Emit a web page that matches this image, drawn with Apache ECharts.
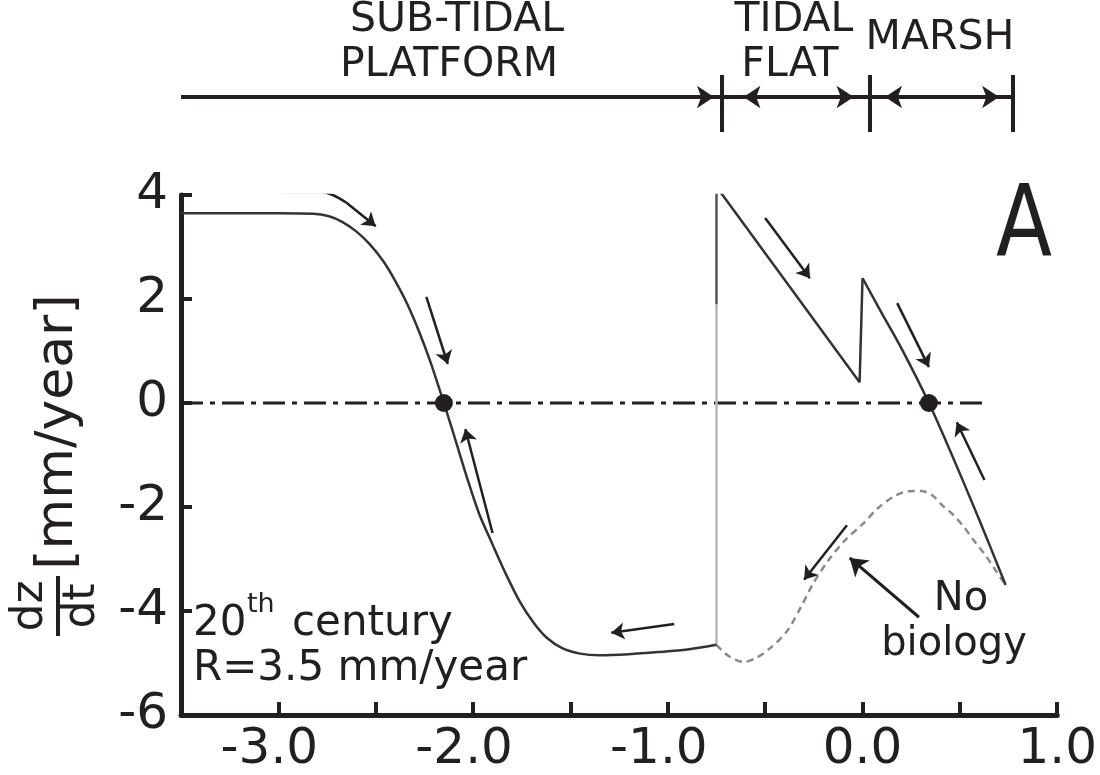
<!DOCTYPE html>
<html>
<head>
<meta charset="utf-8">
<script src="https://cdn.jsdelivr.net/npm/echarts@6/dist/echarts.min.js"></script>
<style>html,body{margin:0;padding:0;background:#fff}#c{width:1100px;height:775px}</style>
</head>
<body>
<div id="c"></div>
<script>
// ---- data ----
const xLabelValues = [-3, -2, -1, 0, 1];
const xTickLabels = ['-3.0', '-2.0', '-1.0', '0.0', '1.0'];
const yLabelValues = [-6, -4, -2, 0, 2, 4];
const yTickLabels = ['-6', '-4', '-2', '0', '2', '4'];

// solid curve, sub-tidal platform (x = elevation, y = dz/dt)
const subtidal = [[-3.50,3.65],[-3.00,3.65],[-2.82,3.64],[-2.74,3.59],[-2.67,3.48],[-2.60,3.30],[-2.53,3.05],[-2.46,2.72],[-2.40,2.35],[-2.34,1.92],[-2.28,1.40],[-2.22,0.80],[-2.15,0.0],[-2.09,-0.72],[-2.03,-1.45],[-1.97,-2.12],[-1.90,-2.72],[-1.83,-3.30],[-1.76,-3.82],[-1.69,-4.22],[-1.62,-4.52],[-1.54,-4.72],[-1.45,-4.82],[-1.35,-4.85],[-1.20,-4.83],[-1.05,-4.79],[-0.90,-4.74],[-0.75,-4.65]];
const jumpLower = [[-0.75,-4.65],[-0.75,1.9]];
const jumpUpper = [[-0.75,1.9],[-0.75,4.16]];
const tidalFlat = [[-0.75,4.16],[-0.015,0.40],[0.0,2.40]];
const marsh = [[0.0,2.40],[0.10,1.72],[0.20,1.05],[0.341,0.0],[0.45,-0.92],[0.60,-2.25],[0.735,-3.50]];
const noBiology = [[-0.75,-4.65],[-0.69,-4.86],[-0.61,-4.98],[-0.545,-4.90],[-0.47,-4.70],[-0.39,-4.40],[-0.32,-3.95],[-0.25,-3.45],[-0.17,-3.00],[-0.09,-2.64],[0.0,-2.33],[0.08,-2.02],[0.16,-1.80],[0.23,-1.70],[0.30,-1.69],[0.36,-1.78],[0.41,-1.97],[0.46,-2.13],[0.52,-2.38],[0.575,-2.66],[0.63,-2.92],[0.68,-3.20],[0.735,-3.50]];
const zeroLine = [[-3.5,0],[0.63,0]];
const equilibria = [[-2.15,0],[0.341,0]];

// flow-direction arrows drawn beside the curves
const flowTail = [[-2.98,4.06],[-2.78,4.06],[-2.72,4.00],[-2.65,3.85]];
const flowArrows = [
  [[-2.65,3.85],[-2.50,3.40]],
  [[-2.24,2.04],[-2.13,0.75]],
  [[-1.90,-2.50],[-2.04,-0.50]],
  [[-0.50,3.56],[-0.27,2.40]],
  [[0.178,1.92],[0.341,0.69]],
  [[0.626,-1.48],[0.484,-0.37]],
  [[-0.967,-4.25],[-1.29,-4.42]],
  [[-0.08,-2.35],[-0.30,-3.40]]
];
const pointerArrow = [[0.29,-4.12],[-0.066,-2.98]];

// zone header (second, hidden cartesian sharing the x scale)
const zoneBounds = [-0.75, 0.0, 0.73];
const zoneLineLevel = 0.614;
const zoneLines = [[[-3.5,zoneLineLevel],[-0.75,zoneLineLevel]],[[-0.75,zoneLineLevel],[0.0,zoneLineLevel]],[[0.0,zoneLineLevel],[0.73,zoneLineLevel]]];
const zoneArrows = [[[-1.2,zoneLineLevel],[-0.79,zoneLineLevel]],[[-0.40,zoneLineLevel],[-0.64,zoneLineLevel]],[[-0.40,zoneLineLevel],[-0.08,zoneLineLevel]],[[0.37,zoneLineLevel],[0.08,zoneLineLevel]],[[0.37,zoneLineLevel],[0.66,zoneLineLevel]]];

// ---- chart ----
const INK = '#231f20';
const FONT = 'DejaVu Sans';
const chart = echarts.init(document.getElementById('c'), null, {renderer: 'canvas'});

function lab(values, labels, v) {
  const i = values.findIndex(t => Math.abs(t - v) < 1e-9);
  return i < 0 ? '' : labels[i];
}

const option = {
  animation: false,
  backgroundColor: '#fff',
  grid: [
    {left: 181, right: 34, top: 195, bottom: 60},
    {left: 181, right: 34, top: 75, height: 57}
  ],
  xAxis: [
    {
      type: 'value', gridIndex: 0, min: -3.5, max: 1.0, interval: 0.5,
      axisLine: {show: true, onZero: false, lineStyle: {color: INK, width: 5}},
      axisTick: {show: true, inside: true, length: 13, lineStyle: {color: INK, width: 4}},
      splitLine: {show: false},
      axisLabel: {
        margin: 10, fontSize: 50, fontFamily: FONT, color: INK,
        formatter: v => {
          const s = lab(xLabelValues, xTickLabels, v);
          if (!s) return '';
          return v < 0 ? '{n|' + s + '}{p|\u00a0}' : '{n|' + s + '}';
        },
        rich: {
          n: {fontSize: 50, fontFamily: FONT, color: INK},
          p: {fontSize: 50, fontFamily: FONT, width: 18}
        }
      }
    },
    {type: 'value', gridIndex: 1, min: -3.5, max: 1.0, show: false}
  ],
  yAxis: [
    {
      type: 'value', gridIndex: 0, min: -6, max: 4, interval: 2,
      axisLine: {show: true, onZero: false, lineStyle: {color: INK, width: 5}},
      axisTick: {show: true, inside: true, length: 11, lineStyle: {color: INK, width: 4}},
      splitLine: {show: false},
      axisLabel: {
        margin: 13, fontSize: 50, fontFamily: FONT, color: INK,
        formatter: v => lab(yLabelValues, yTickLabels, v)
      }
    },
    {type: 'value', gridIndex: 1, min: 0, max: 1, show: false}
  ],
  series: [
    {type: 'line', data: zeroLine, showSymbol: false, symbol: 'none', z: 2,
     lineStyle: {color: INK, width: 3, type: [22, 7, 5, 7]}},
    {type: 'line', data: noBiology, showSymbol: false, symbol: 'none', smooth: 0.3, z: 3,
     lineStyle: {color: '#8a8a8a', width: 2.5, type: [7, 5]}},
    {type: 'line', data: jumpLower, showSymbol: false, symbol: 'none', z: 3,
     lineStyle: {color: '#b8b8b8', width: 2.5}},
    {type: 'line', data: jumpUpper, showSymbol: false, symbol: 'none', z: 3,
     lineStyle: {color: '#555', width: 2.5}},
    {type: 'line', data: subtidal, showSymbol: false, symbol: 'none', smooth: 0.3, z: 4,
     lineStyle: {color: '#333', width: 2.5}},
    {type: 'line', data: tidalFlat, showSymbol: false, symbol: 'none', z: 4,
     lineStyle: {color: '#333', width: 2.5}},
    {type: 'line', data: marsh, showSymbol: false, symbol: 'none', smooth: 0.3, z: 4,
     lineStyle: {color: '#333', width: 2.5}},
    {type: 'line', data: flowTail, showSymbol: false, symbol: 'none', smooth: 0.3, z: 5,
     lineStyle: {color: INK, width: 2.5}},
    {type: 'lines', coordinateSystem: 'cartesian2d', xAxisIndex: 0, yAxisIndex: 0, z: 5,
     symbol: ['none', 'arrow'], symbolSize: 13,
     lineStyle: {color: INK, width: 2.5, opacity: 1, curveness: 0},
     data: flowArrows.map(c => ({coords: c}))},
    {type: 'lines', coordinateSystem: 'cartesian2d', xAxisIndex: 0, yAxisIndex: 0, z: 5,
     symbol: ['none', 'arrow'], symbolSize: 17,
     lineStyle: {color: INK, width: 3, opacity: 1, curveness: 0},
     data: [{coords: pointerArrow}]},
    {type: 'scatter', data: equilibria, symbol: 'circle', symbolSize: 18, z: 6,
     itemStyle: {color: INK, opacity: 1}},
    // zone header
    {type: 'lines', coordinateSystem: 'cartesian2d', xAxisIndex: 1, yAxisIndex: 1, z: 5,
     symbol: 'none', lineStyle: {color: INK, width: 4, opacity: 1, curveness: 0},
     data: zoneLines.concat(zoneBounds.map(b => [[b, 0], [b, 1]])).map(c => ({coords: c}))},
    {type: 'lines', coordinateSystem: 'cartesian2d', xAxisIndex: 1, yAxisIndex: 1, z: 5,
     symbol: ['none', 'arrow'], symbolSize: 17,
     lineStyle: {color: INK, width: 4, opacity: 1, curveness: 0},
     data: zoneArrows.map(c => ({coords: c}))}
  ],
  graphic: [
    {type: 'text', x: 457, y: 20, style: {text: 'SUB-TIDAL', fontSize: 41, fontFamily: FONT, fill: INK, align: 'center', verticalAlign: 'middle'}},
    {type: 'text', x: 449, y: 65, style: {text: 'PLATFORM', fontSize: 41, fontFamily: FONT, fill: INK, align: 'center', verticalAlign: 'middle'}},
    {type: 'text', x: 794, y: 20, style: {text: 'TIDAL', fontSize: 41, fontFamily: FONT, fill: INK, align: 'center', verticalAlign: 'middle'}},
    {type: 'text', x: 790, y: 65, style: {text: 'FLAT', fontSize: 41, fontFamily: FONT, fill: INK, align: 'center', verticalAlign: 'middle'}},
    {type: 'text', x: 940, y: 38, style: {text: 'MARSH', fontSize: 41, fontFamily: FONT, fill: INK, align: 'center', verticalAlign: 'middle'}},
    {type: 'text', x: 1024, y: 230, style: {text: 'A', fontSize: 100, fontFamily: FONT, fill: INK, align: 'center', verticalAlign: 'middle'}, scaleX: 0.82, originX: 0},
    {type: 'text', x: 193, y: 624, style: {text: '20', fontSize: 42, fontFamily: FONT, fill: INK, align: 'left', verticalAlign: 'middle'}},
    {type: 'text', x: 247, y: 605, style: {text: 'th', fontSize: 27, fontFamily: FONT, fill: INK, align: 'left', verticalAlign: 'middle'}},
    {type: 'text', x: 292, y: 624, style: {text: 'century', fontSize: 42, fontFamily: FONT, fill: INK, align: 'left', verticalAlign: 'middle'}},
    {type: 'text', x: 193, y: 669, style: {text: 'R=3.5 mm/year', fontSize: 42, fontFamily: FONT, fill: INK, align: 'left', verticalAlign: 'middle'}},
    {type: 'text', x: 961, y: 600, style: {text: 'No', fontSize: 40, fontFamily: FONT, fill: INK, align: 'center', verticalAlign: 'middle'}},
    {type: 'text', x: 954, y: 645, style: {text: 'biology', fontSize: 40, fontFamily: FONT, fill: INK, align: 'center', verticalAlign: 'middle'}},
    {type: 'text', x: 58, y: 432, rotation: Math.PI / 2,
     style: {text: '[mm/year]', fontSize: 52, fontFamily: FONT, fill: INK, align: 'center', verticalAlign: 'middle'}},
    {type: 'group', x: 58, y: 606, rotation: Math.PI / 2, children: [
      {type: 'text', x: 0, y: -27, style: {text: 'dz', fontSize: 44, fontFamily: FONT, fill: INK, align: 'center', verticalAlign: 'middle'}},
      {type: 'line', shape: {x1: -30, y1: 0, x2: 30, y2: 0}, style: {stroke: INK, lineWidth: 4}},
      {type: 'text', x: 0, y: 25, style: {text: 'dt', fontSize: 44, fontFamily: FONT, fill: INK, align: 'center', verticalAlign: 'middle'}}
    ]}
  ]
};
chart.setOption(option);
</script>
</body>
</html>
